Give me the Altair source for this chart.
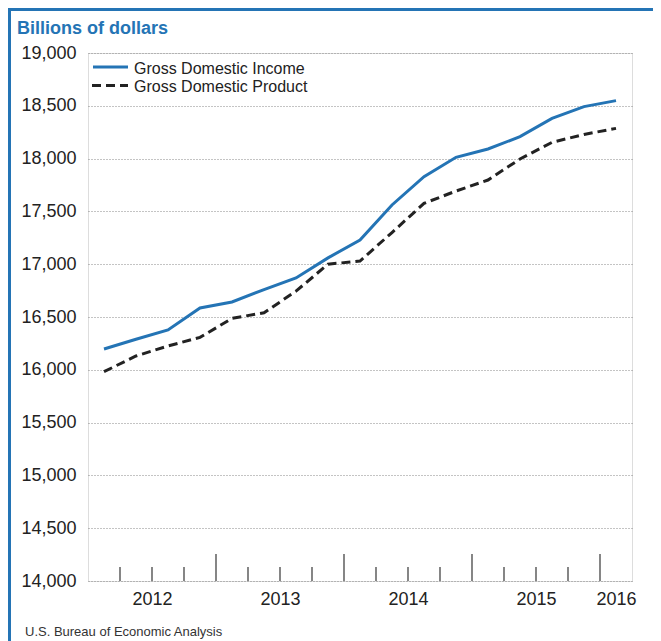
import altair as alt
import pandas as pd

# ---- data ----
SERIES = ["Gross Domestic Income", "Gross Domestic Product"]
QUARTERS = ["2012Q1", "2012Q2", "2012Q3", "2012Q4",
            "2013Q1", "2013Q2", "2013Q3", "2013Q4",
            "2014Q1", "2014Q2", "2014Q3", "2014Q4",
            "2015Q1", "2015Q2", "2015Q3", "2015Q4",
            "2016Q1"]
GDI = [16197, 16289, 16377, 16585, 16642, 16760, 16870, 17060, 17229,
       17561, 17829, 18012, 18091, 18208, 18381, 18492, 18549]
GDP = [15982, 16131, 16225, 16307, 16487, 16540, 16745, 17000, 17030,
       17300, 17576, 17693, 17797, 17996, 18154, 18229, 18286]
YEAR_LABELS = ["2012", "2013", "2014", "2015", "2016"]
Y_TICKS = list(range(14000, 19001, 500))
TITLE = "Billions of dollars"
SOURCE = "U.S. Bureau of Economic Analysis"

BLUE = "#2474b5"
DARK = "#222222"
FONT = "Liberation Sans"

W, H = 544, 528
NQ = len(QUARTERS)

rows = []
for i, q in enumerate(QUARTERS):
    rows.append({"q": i + 0.5, "quarter": q, "series": SERIES[0], "value": GDI[i]})
    rows.append({"q": i + 0.5, "quarter": q, "series": SERIES[1], "value": GDP[i]})
df = pd.DataFrame(rows)
one = pd.DataFrame({"k": [0]})

# quarter boundaries (ticks) and year label positions
bounds = pd.DataFrame({"b": list(range(1, NQ))})
bounds["year_start"] = bounds["b"] % 4 == 0
label_pos = [2 + 4 * k for k in range(len(YEAR_LABELS) - 1)] + [16.5]

xscale = alt.Scale(domain=[0, NQ], nice=False, zero=False)
yscale = alt.Scale(domain=[14000, 19000], nice=False, zero=False)

x_axis = alt.Axis(values=label_pos, labelExpr="'' + (2012 + floor(datum.value / 4))",
                  ticks=False, domain=False, grid=False, title=None,
                  labelFontSize=18, labelFont=FONT, labelColor=DARK,
                  labelPadding=9)
y_axis = alt.Axis(values=Y_TICKS, format=",.0f", ticks=False, domain=False,
                  grid=True, gridDash=[1, 2], gridColor="#8a8a8a", gridWidth=1.2,
                  title=None, labelFontSize=18, labelFont=FONT, labelColor=DARK,
                  labelPadding=12)

base = alt.Chart(df)

gdi_line = base.transform_filter(alt.datum.series == SERIES[0]).mark_line(
    color=BLUE, strokeWidth=3).encode(
    x=alt.X("q:Q", scale=xscale, axis=x_axis),
    y=alt.Y("value:Q", scale=yscale, axis=y_axis),
)
gdp_line = base.transform_filter(alt.datum.series == SERIES[1]).mark_line(
    color=DARK, strokeWidth=3, strokeDash=[9, 5]).encode(
    x=alt.X("q:Q", scale=xscale),
    y=alt.Y("value:Q", scale=yscale),
)

small_ticks = alt.Chart(bounds).transform_filter("!datum.year_start").mark_rule(
    color="#444444", strokeWidth=1.3).encode(
    x=alt.X("b:Q", scale=xscale), y=alt.value(H), y2=alt.value(H - 14))
tall_ticks = alt.Chart(bounds).transform_filter("datum.year_start").mark_rule(
    color="#444444", strokeWidth=1.3).encode(
    x=alt.X("b:Q", scale=xscale), y=alt.value(H), y2=alt.value(H - 27))

# legend (manual)
ann = alt.Chart(one)
leg_gdi_line = ann.mark_rule(color=BLUE, strokeWidth=3).encode(
    x=alt.value(5), x2=alt.value(40), y=alt.value(14))
leg_gdp_line = ann.mark_rule(color=DARK, strokeWidth=3, strokeDash=[9, 5]).encode(
    x=alt.value(4), x2=alt.value(40), y=alt.value(32.5))
leg_gdi_text = ann.mark_text(align="left", baseline="alphabetic", fontSize=16,
                             font=FONT, color=DARK).encode(
    x=alt.value(46), y=alt.value(20.5), text=alt.value(SERIES[0]))
leg_gdp_text = ann.mark_text(align="left", baseline="alphabetic", fontSize=16,
                             font=FONT, color=DARK).encode(
    x=alt.value(46), y=alt.value(38.5), text=alt.value(SERIES[1]))

title_txt = ann.mark_text(align="left", baseline="alphabetic", fontSize=18,
                          fontWeight="bold", font=FONT, color=BLUE).encode(
    x=alt.value(-71), y=alt.value(-19.5), text=alt.value(TITLE))
source_txt = ann.mark_text(align="left", baseline="alphabetic", fontSize=13,
                           font=FONT, color="#333333").encode(
    x=alt.value(-63), y=alt.value(583), text=alt.value(SOURCE))

# outer frame (left and top)
frame_left = ann.mark_rule(color=BLUE, strokeWidth=3).encode(
    x=alt.value(-78.5), y=alt.value(-44), y2=alt.value(H + 80))
frame_top = ann.mark_rule(color=BLUE, strokeWidth=3).encode(
    x=alt.value(-80), x2=alt.value(W + 60), y=alt.value(-43.5))

chart = alt.layer(
    small_ticks, tall_ticks, gdp_line, gdi_line,
    leg_gdi_line, leg_gdp_line, leg_gdi_text, leg_gdp_text,
    title_txt, source_txt, frame_left, frame_top,
).properties(
    width=W, height=H,
    autosize=alt.AutoSizeParams(type="none"),
    padding={"left": 80, "top": 45, "right": 21, "bottom": 60},
).configure_view(
    stroke=BLUE, strokeWidth=2.5,
).configure(background="white")

chart.save("out.html", embed_options={"renderer": "svg", "actions": False})
